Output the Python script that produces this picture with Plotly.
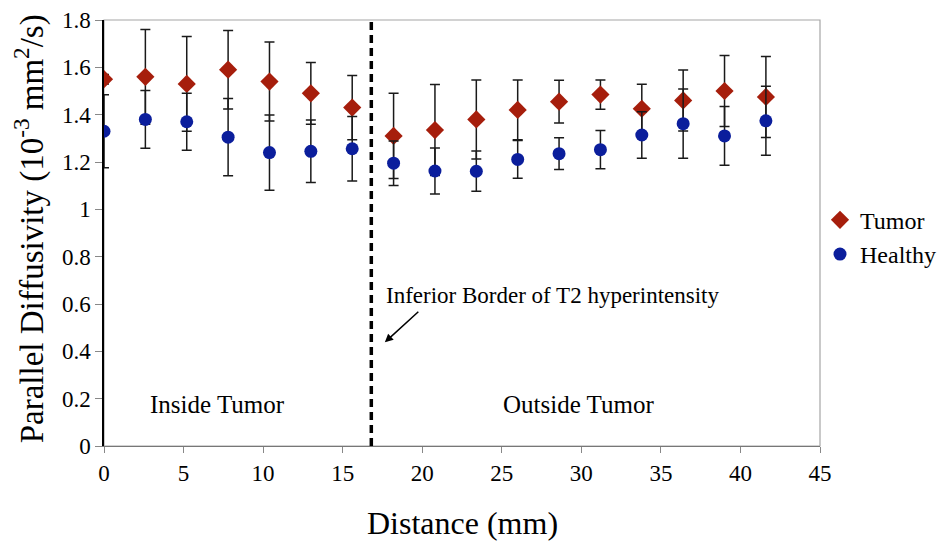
import plotly.graph_objects as go

distance = [0, 2.6, 5.2, 7.8, 10.4, 13.0, 15.6, 18.2, 20.8, 23.4, 26.0, 28.6, 31.2, 33.8, 36.4, 39.0, 41.6]
tumor = [1.55, 1.56, 1.53, 1.59, 1.54, 1.49, 1.43, 1.31, 1.335, 1.38, 1.42, 1.455, 1.485, 1.425, 1.46, 1.50, 1.475]
tumor_err = [0.02, 0.20, 0.20, 0.166, 0.167, 0.13, 0.136, 0.18, 0.192, 0.167, 0.126, 0.09, 0.062, 0.103, 0.129, 0.15, 0.171]
healthy = [1.33, 1.38, 1.37, 1.305, 1.24, 1.245, 1.256, 1.195, 1.162, 1.161, 1.211, 1.235, 1.252, 1.314, 1.362, 1.31, 1.374]
healthy_err = [0.154, 0.122, 0.12, 0.163, 0.159, 0.132, 0.136, 0.094, 0.097, 0.085, 0.08, 0.067, 0.081, 0.098, 0.146, 0.124, 0.146]
border_x = 16.8

x_ticks = [0, 5, 10, 15, 20, 25, 30, 35, 40, 45]
y_ticks = [0, 0.2, 0.4, 0.6, 0.8, 1.0, 1.2, 1.4, 1.6, 1.8]
y_ticktext = ["0", "0.2", "0.4", "0.6", "0.8", "1", "1.2", "1.4", "1.6", "1.8"]

FONT = "Liberation Serif"
TUMOR_C = "#A61E0C"
HEALTHY_C = "#0B1E9C"

fig = go.Figure()
fig.add_trace(go.Scatter(
    x=distance, y=tumor, mode="markers", name="Tumor",
    marker=dict(symbol="diamond", size=14, color=TUMOR_C),
    error_y=dict(type="data", array=tumor_err, visible=True, color="#1a1a1a", thickness=1.5, width=5),
))
fig.add_trace(go.Scatter(
    x=distance, y=healthy, mode="markers", name="Healthy",
    marker=dict(symbol="circle", size=13, color=HEALTHY_C),
    error_y=dict(type="data", array=healthy_err, visible=True, color="#1a1a1a", thickness=1.5, width=5),
))

# plot border (grey top/right)
fig.add_shape(type="rect", xref="paper", yref="paper", x0=0, x1=1, y0=0, y1=1,
              line=dict(color="#a6a6a6", width=1.2), layer="below")
# dashed border line
fig.add_shape(type="line", xref="x", yref="y", x0=border_x, x1=border_x, y0=0, y1=1.8,
              line=dict(color="black", width=3.5, dash="8px,5px"))

fig.add_annotation(x=17.65, y=0.438, xref="x", yref="y", text="",
                   showarrow=True, ax=35, ay=-32, arrowhead=2, arrowsize=1.1,
                   arrowwidth=1.5, arrowcolor="black")
fig.add_annotation(x=17.6, y=0.637, xref="x", yref="y", text="Inferior Border of T2 hyperintensity",
                   showarrow=False, xanchor="left", yanchor="middle",
                   font=dict(family=FONT, size=23, color="black"))
fig.add_annotation(x=7.16, y=0.177, xref="x", yref="y", text="Inside Tumor",
                   showarrow=False, xanchor="center", yanchor="middle",
                   font=dict(family=FONT, size=25, color="black"))
fig.add_annotation(x=29.8, y=0.177, xref="x", yref="y", text="Outside Tumor",
                   showarrow=False, xanchor="center", yanchor="middle",
                   font=dict(family=FONT, size=25, color="black"))

# axis titles
fig.add_annotation(x=-0.104, y=0.51, xref="paper", yref="paper",
                   text="Parallel Diffusivity (10<sup>-3</sup> mm<sup>2</sup>/s)",
                   textangle=-90, showarrow=False, xanchor="center", yanchor="middle",
                   font=dict(family=FONT, size=33, color="black"))
fig.add_annotation(x=0.5, y=-0.18, xref="paper", yref="paper", text="Distance (mm)",
                   showarrow=False, xanchor="center", yanchor="middle",
                   font=dict(family=FONT, size=32, color="black"))

fig.update_xaxes(range=[0, 45], tickvals=x_ticks, ticks="outside", ticklen=6, tickcolor="#888",
                 showline=True, linecolor="#777", linewidth=1.2, showgrid=False, zeroline=False,
                 automargin=False,
                 tickfont=dict(family=FONT, size=23, color="black"))
fig.update_yaxes(range=[0, 1.8], tickvals=y_ticks, ticktext=y_ticktext, ticks="outside", ticklen=7,
                 tickcolor="#888", showline=True, linecolor="black", linewidth=1.5,
                 showgrid=False, zeroline=False, automargin=False,
                 tickfont=dict(family=FONT, size=23, color="black"))

# page body has an 8px default margin, so the figure is 8px smaller and margins shifted
fig.update_layout(
    width=940, height=543,
    margin=dict(l=96, r=128, t=12, b=105, autoexpand=False),
    paper_bgcolor="white", plot_bgcolor="white",
    showlegend=True,
    legend=dict(x=1.0, y=0.49, xanchor="left", yanchor="middle",
                font=dict(family=FONT, size=24, color="black"),
                bgcolor="rgba(0,0,0,0)", itemwidth=30, tracegroupgap=0),
)

fig.write_html("out.html")
